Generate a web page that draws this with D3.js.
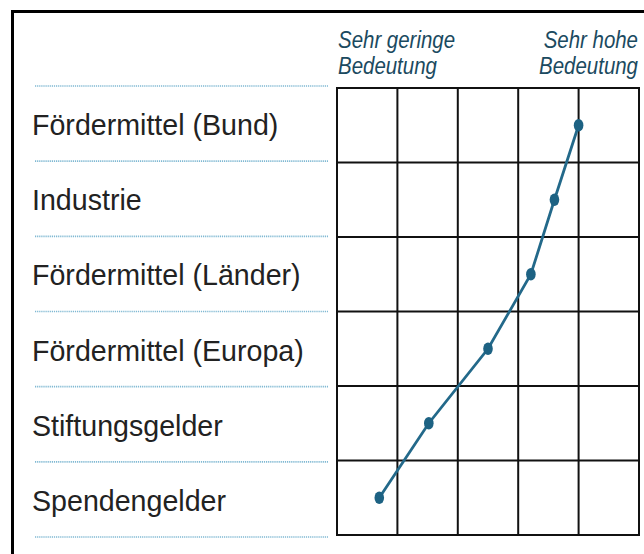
<!DOCTYPE html>
<html><head><meta charset="utf-8">
<script src="https://cdn.jsdelivr.net/npm/d3@7"></script>
<style>body{margin:0;background:#fff;} svg{display:block;}</style>
</head><body>
<svg id="c" width="644" height="554"></svg>
<script>
const categories = ["Fördermittel (Bund)", "Industrie", "Fördermittel (Länder)", "Fördermittel (Europa)", "Stiftungsgelder", "Spendengelder"];
const values = [4.0, 3.6, 3.21, 2.5, 1.52, 0.70];
const scaleTicks = [0, 1, 2, 3, 4, 5];
const headerLeft = ["Sehr geringe", "Bedeutung"];
const headerRight = ["Sehr hohe", "Bedeutung"];

const svg = d3.select("#c");
const gridLeft = 337, gridRight = 639, gridTop = 88, gridBottom = 535;
const x = d3.scaleLinear().domain([0, 5]).range([gridLeft, gridRight]);
const y = d3.scaleBand().domain(categories).range([gridTop, gridBottom]).padding(0);
const yLab = d3.scaleBand().domain(categories).range([86, 537]).padding(0);

// outer frame
svg.append("rect").attr("x", 12.5).attr("y", 11.5).attr("width", 700).attr("height", 600)
  .attr("fill", "none").attr("stroke", "#000").attr("stroke-width", 3);

// dotted separators
const sepY = categories.map(c => yLab(c)).concat([yLab(categories[categories.length-1]) + yLab.bandwidth()]);
svg.append("g").selectAll("line").data(sepY).join("line")
  .attr("x1", 35).attr("x2", 328).attr("y1", d => d).attr("y2", d => d)
  .attr("stroke", "#7fb8d2").attr("stroke-width", 1.6).attr("stroke-dasharray", "1.2,0.9");

// labels
svg.append("g").selectAll("text").data(categories).join("text")
  .attr("transform", d => `translate(32,${yLab(d) + yLab.bandwidth()/2 + 11.5}) scale(1,1.06)`)
  .attr("font-family", "'Liberation Sans', Arial, sans-serif").attr("font-size", 28.6)
  .attr("fill", "#222").text(d => d);

// grid
const g = svg.append("g");
g.selectAll("line.v").data(scaleTicks).join("line").attr("class", "v")
  .attr("x1", d => x(d)).attr("x2", d => x(d)).attr("y1", gridTop).attr("y2", gridBottom)
  .attr("stroke", "#111").attr("stroke-width", 2);
const hY = categories.map(c => y(c)).concat([gridBottom]);
g.selectAll("line.h").data(hY).join("line").attr("class", "h")
  .attr("x1", gridLeft - 1).attr("x2", gridRight + 1).attr("y1", d => d).attr("y2", d => d)
  .attr("stroke", "#111").attr("stroke-width", 2);

// header
function header(lines, xPos, anchor) {
  svg.append("g").selectAll("text").data(lines).join("text")
    .attr("transform", (d, i) => `translate(${xPos},${48 + i * 25.5}) scale(0.93,1.06)`)
    .attr("text-anchor", anchor)
    .attr("font-family", "'Liberation Sans', Arial, sans-serif")
    .attr("font-style", "italic").attr("font-size", 22)
    .attr("fill", "#1b4a60").text(d => d);
}
header(headerLeft, 338, "start");
header(headerRight, 638, "end");

// line + markers
const pts = categories.map((c, i) => [x(values[i]), y(c) + y.bandwidth()/2]);
svg.append("path").attr("d", d3.line()(pts)).attr("fill", "none")
  .attr("stroke", "#23698a").attr("stroke-width", 2.8);
svg.append("g").selectAll("ellipse").data(pts).join("ellipse")
  .attr("cx", d => d[0]).attr("cy", d => d[1]).attr("rx", 4.8).attr("ry", 6.2)
  .attr("fill", "#1d6283");
</script>
</body></html>
